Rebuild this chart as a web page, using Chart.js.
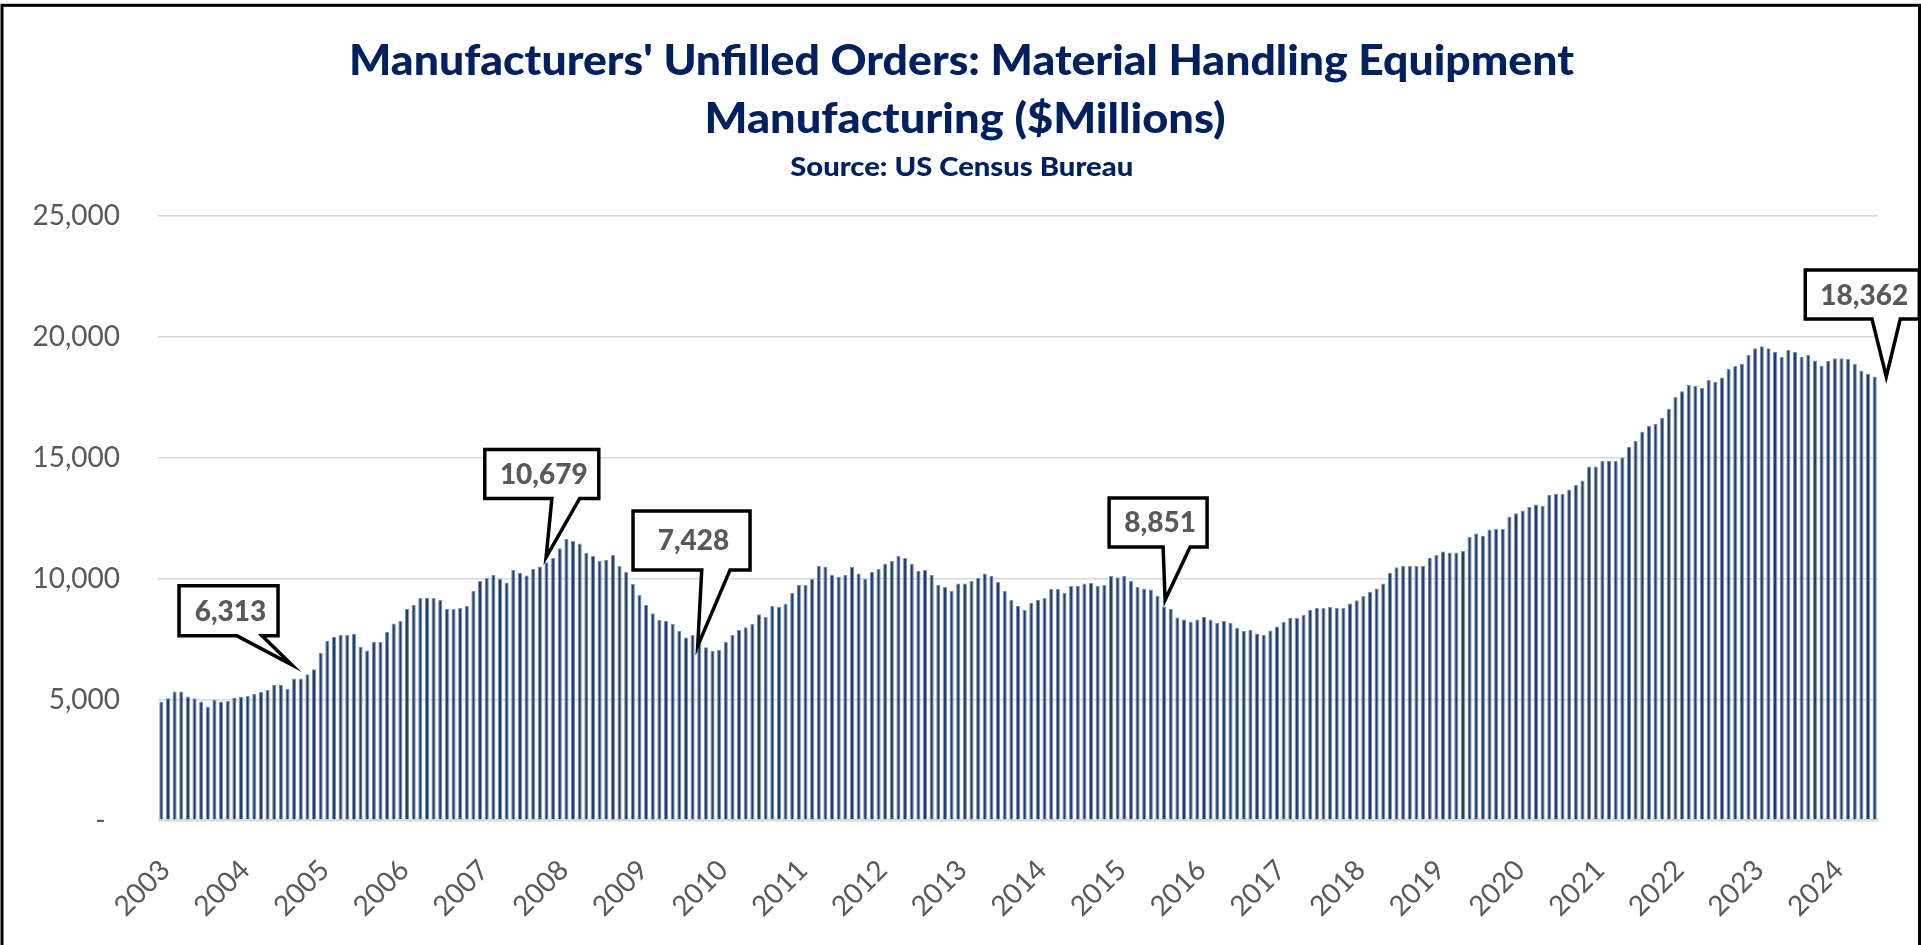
<!DOCTYPE html>
<html><head><meta charset="utf-8">
<script src="https://cdn.jsdelivr.net/npm/chart.js@4.4.1/dist/chart.umd.min.js"></script>
<style>html,body{margin:0;padding:0;background:#fff;overflow:hidden}#wrap{position:relative;width:1921px;height:945px}</style>
</head><body><div id="wrap"><canvas id="c"></canvas></div>
<script>
// ---------- text ----------
const titleLines = ["Manufacturers' Unfilled Orders: Material Handling Equipment", "Manufacturing ($Millions)"];
const sourceText = "Source: US Census Bureau";

// ---------- data (monthly, $ millions) ----------
const years = [2003,2004,2005,2006,2007,2008,2009,2010,2011,2012,2013,2014,2015,2016,2017,2018,2019,2020,2021,2022,2023,2024];
const v2003 = [4920,5060,5330,5330,5130,5060,4920,4700,4990,4920,4940,5090];
const v2004 = [5110,5150,5230,5320,5400,5610,5610,5440,5870,5870,6050,6260];
const v2005 = [6930,7430,7600,7670,7670,7720,7190,7030,7380,7390,7800,8150];
const v2006 = [8250,8750,8920,9210,9210,9210,9120,8750,8750,8800,8870,9490];
const v2007 = [9900,10030,10150,10000,9840,10360,10250,10130,10400,10500,10679,10860];
const v2008 = [11260,11640,11560,11460,11060,10940,10730,10770,10980,10530,10280,9780];
const v2009 = [9330,8910,8570,8290,8250,8130,7840,7570,7670,7428,7160,7020];
const v2010 = [7050,7390,7670,7880,7990,8130,8530,8430,8870,8840,8950,9420];
const v2011 = [9740,9740,9990,10540,10500,10150,10080,10150,10480,10210,9990,10280];
const v2012 = [10400,10620,10730,10950,10860,10620,10330,10360,10150,9740,9660,9490];
const v2013 = [9800,9800,9910,10030,10210,10110,9860,9490,9120,8870,8710,8990];
const v2014 = [9120,9200,9570,9570,9420,9700,9700,9800,9820,9700,9740,10110];
const v2015 = [10060,10110,9920,9670,9590,9550,9280,8851,8760,8400,8310,8220];
const v2016 = [8310,8430,8310,8170,8260,8170,7970,7850,7890,7730,7680,7860];
const v2017 = [8020,8220,8390,8390,8500,8720,8800,8800,8830,8800,8800,8970];
const v2018 = [9110,9280,9460,9590,9800,10250,10470,10540,10540,10540,10540,10870];
const v2019 = [10990,11120,11080,11080,11150,11740,11870,11780,12030,12070,12060,12570];
const v2020 = [12710,12820,12970,13070,13020,13460,13510,13510,13690,13880,14060,14640];
const v2021 = [14640,14870,14870,14870,15010,15450,15710,16070,16320,16400,16650,17030];
const v2022 = [17520,17750,18020,17980,17890,18220,18140,18320,18680,18800,18880,19250];
const v2023 = [19530,19610,19530,19390,19180,19460,19390,19180,19250,19020,18800,19010];
const v2024 = [19120,19120,19090,18880,18610,18470,18362];
const valuesByYear = [v2003,v2004,v2005,v2006,v2007,v2008,v2009,v2010,v2011,v2012,v2013,v2014,v2015,v2016,v2017,v2018,v2019,v2020,v2021,v2022,v2023,v2024];

// y axis ticks
const yTicks = [0,5000,10000,15000,20000,25000];

// callouts (bar index -> text)
const calloutIndex = [20, 58, 81, 151, 258];
const calloutText  = ['6,313', '10,679', '7,428', '8,851', '18,362'];

// ---------- build categories ----------
const categories = [];
const values = [];
valuesByYear.forEach((arr, yi) => {
  arr.forEach((v, m) => {
    categories.push(years[yi] + '-' + String(m + 1).padStart(2, '0'));
    values.push(v);
  });
});

// ---------- callout geometry (relative to bar top, px) ----------
const calloutStyle = [
  {tip:[-2.4,-13.7], box:[-65.6,-67.7], w:99,  h:50, base:[8.5,33.5]},
  {tip:[-0.4,-5],    box:[-4.7,-88.3],  w:114, h:49, base:[10.1,37.9]},
  {tip:[-1.5,5],     box:[-7.7,-100.5], w:117, h:59, base:[10.2,38.5]},
  {tip:[1,-6.5],     box:[-6,-84],      w:98,  h:49, base:[5,32]},
  {tip:[11.6,0.2],   box:[-12.4,-82],   w:114, h:49, base:[9.7,38]}
];

const FONT = "Lato, 'Open Sans', 'Noto Sans', sans-serif";

const framePlugin = {
  id: 'frame',
  beforeDraw(chart) {
    const ctx = chart.ctx;
    ctx.save();
    ctx.fillStyle = '#ffffff';
    ctx.fillRect(0, 0, chart.width, chart.height);
    ctx.restore();
  },
  afterDraw(chart) {
    const ctx = chart.ctx;
    ctx.save();
    ctx.strokeStyle = '#000000';
    ctx.lineWidth = 3;
    ctx.strokeRect(2, 5.3, 1917.5, 1000);
    const drawFit = (text, cx, baseY, font, target) => {
      ctx.font = font;
      const w = ctx.measureText(text).width;
      const s = target / w;
      ctx.save();
      ctx.translate(cx, baseY);
      ctx.scale(s, 1);
      ctx.textAlign = 'center';
      ctx.textBaseline = 'alphabetic';
      ctx.fillStyle = '#002060';
      ctx.fillText(text, 0, 0);
      ctx.restore();
    };
    drawFit(titleLines[0], 961.5, 75, "900 42px " + FONT, 1225);
    drawFit(titleLines[1], 965, 132.7, "900 42px " + FONT, 521);
    drawFit(sourceText, 961.7, 175.7, "900 27px " + FONT, 343);
    ctx.restore();
  }
};

const calloutPlugin = {
  id: 'callouts',
  afterDatasetsDraw(chart) {
    const ctx = chart.ctx;
    const meta = chart.getDatasetMeta(0);
    const ys = chart.scales.y;
    ctx.save();
    calloutIndex.forEach((idx, k) => {
      const st = calloutStyle[k];
      const px = meta.data[idx].x;
      const py = ys.getPixelForValue(values[idx]);
      const tx = px + st.tip[0], ty = py + st.tip[1];
      const cx = px + st.box[0], cy = py + st.box[1];
      const l = cx - st.w / 2, r = cx + st.w / 2, t = cy - st.h / 2, b = cy + st.h / 2;
      ctx.beginPath();
      ctx.moveTo(l, t);
      ctx.lineTo(r, t);
      ctx.lineTo(r, b);
      ctx.lineTo(cx + st.base[1], b);
      ctx.lineTo(tx, ty);
      ctx.lineTo(cx + st.base[0], b);
      ctx.lineTo(l, b);
      ctx.closePath();
      ctx.fillStyle = '#ffffff';
      ctx.fill();
      ctx.lineWidth = 3.5;
      ctx.lineJoin = 'miter';
      ctx.strokeStyle = '#000000';
      ctx.stroke();
      ctx.font = "900 28px " + FONT;
      ctx.fillStyle = '#595959';
      ctx.textAlign = 'center';
      ctx.textBaseline = 'alphabetic';
      ctx.fillText(calloutText[k], cx + 2, cy + 10);
    });
    ctx.restore();
  }
};

new Chart(document.getElementById('c'), {
  type: 'bar',
  data: {
    labels: categories,
    datasets: [{
      data: values,
      backgroundColor: '#223f6c',
      borderColor: '#7890b3',
      borderWidth: {left: 1, right: 1, top: 1, bottom: 0},
      borderSkipped: 'bottom',
      barPercentage: 0.62,
      categoryPercentage: 1.0
    }]
  },
  options: {
    responsive: true,
    maintainAspectRatio: false,
    animation: false,
    devicePixelRatio: 1,
    layout: {padding: {top: 216, left: 0, right: 43, bottom: 0}},
    plugins: {
      legend: {display: false},
      title: {display: false},
      tooltip: {enabled: false}
    },
    scales: {
      x: {
        type: 'category',
        offset: true,
        grid: {display: false, drawTicks: false},
        border: {display: false},
        ticks: {
          autoSkip: false,
          minRotation: 45,
          maxRotation: 45,
          padding: 33,
          labelOffset: 4,
          color: '#595959',
          font: {family: FONT, size: 28},
          callback: function (val) {
            const lab = this.getLabelForValue(val);
            return lab.endsWith('-01') ? lab.slice(0, 4) : '';
          }
        },
        afterFit(scale) {
          scale.height = 124.5;
          scale.paddingLeft = 0;
          scale.paddingRight = 0;
        }
      },
      y: {
        min: 0,
        max: 25000,
        afterBuildTicks(scale) { scale.ticks = yTicks.map(v => ({value: v})); },
        grid: {
          color: '#d9d9d9',
          lineWidth: (c) => (c.tick && c.tick.value === 0 ? 2.5 : 1.5),
          drawTicks: false
        },
        border: {display: false},
        ticks: {
          padding: 38,
          color: '#595959',
          font: {family: FONT, size: 28},
          callback: (v) => (v === 0 ? '-  ' : Number(v).toLocaleString('en-US'))
        },
        afterFit(scale) { scale.width = 158; }
      }
    }
  },
  plugins: [framePlugin, calloutPlugin]
});
</script>
</body></html>
